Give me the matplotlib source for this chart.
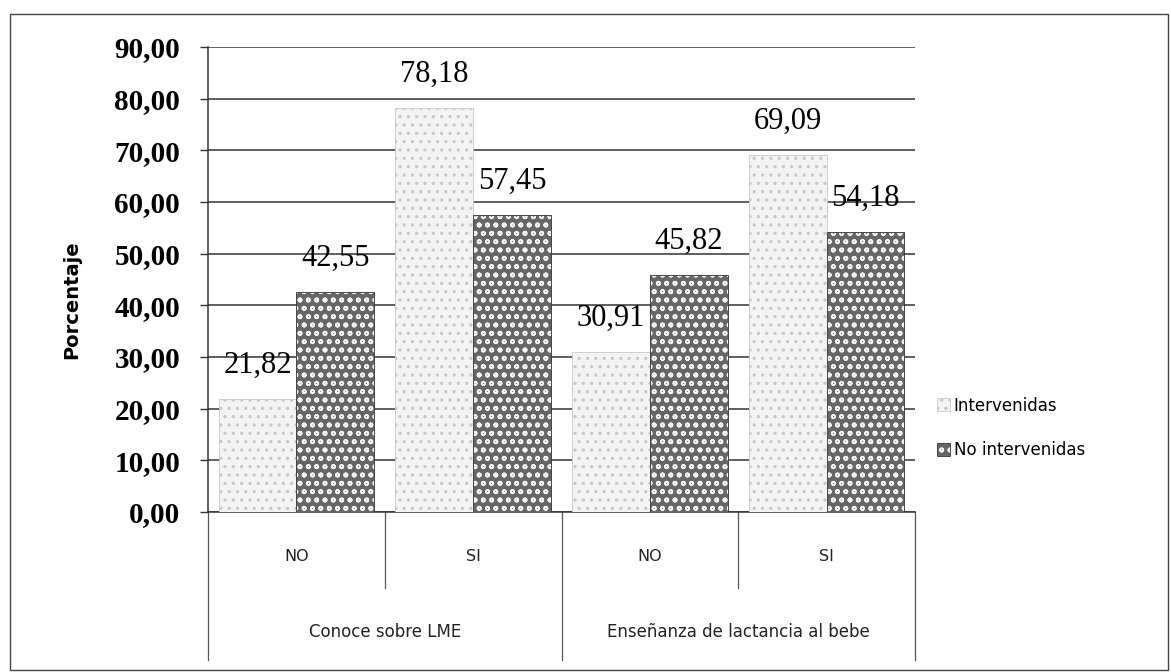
import matplotlib.pyplot as plt
import matplotlib.patches as patches
import matplotlib.transforms as mtransforms
import numpy as np

# Data
subcats = ['NO', 'SI', 'NO', 'SI']
groups = ['Conoce sobre LME', 'Enseñanza de lactancia al bebe']
intervenidas = [21.82, 78.18, 30.91, 69.09]
no_intervenidas = [42.55, 57.45, 45.82, 54.18]
yticks = [0, 10, 20, 30, 40, 50, 60, 70, 80, 90]

plt.rcParams['hatch.linewidth'] = 1.2

fig = plt.figure(figsize=(11.71, 6.72), dpi=100)
ax = fig.add_axes([208 / 1171, 1 - 512 / 672, 707 / 1171, 465 / 672])

x = np.arange(len(subcats))
w = 0.44

# Bars (texture approximated with hatches)
plt.rcParams['hatch.color'] = '#9a9a9a'
b1 = ax.bar(x - w / 2, intervenidas, w, facecolor='#f4f4f4', edgecolor='#c8c8c8',
            hatch='..', linewidth=0.6, label='Intervenidas', zorder=3)
b2 = ax.bar(x + w / 2, no_intervenidas, w, facecolor='#666666', edgecolor='#333333',
            hatch='oo', linewidth=0.6, label='No intervenidas', zorder=3)
for bar in b2:
    bar._hatch_color = (0.95, 0.95, 0.95, 1.0)

# Data labels
for bars, vals in [(b1, intervenidas), (b2, no_intervenidas)]:
    for bar, v in zip(bars, vals):
        ax.annotate(f'{v:.2f}'.replace('.', ','),
                    (bar.get_x() + bar.get_width() / 2, v),
                    xytext=(0, 19), textcoords='offset pixels',
                    ha='center', va='bottom', fontsize=22,
                    family='Liberation Serif', zorder=5)

ax.set_xlim(-0.5, 3.5)
ax.set_ylim(0, 90)
ax.set_yticks(yticks)
ax.set_yticklabels([f'{t:.2f}'.replace('.', ',') for t in yticks],
                   fontsize=21, fontweight='bold', family='Liberation Serif')
ax.tick_params(axis='y', length=6, width=1, color='#333333', pad=14)
ax.set_xticks([])
ax.yaxis.grid(True, color='#333333', linewidth=1.1, zorder=0)
ax.set_axisbelow(True)
for s in ['top', 'right']:
    ax.spines[s].set_visible(False)
ax.spines['left'].set_color('#333333')
ax.spines['bottom'].set_color('#333333')
ax.spines['left'].set_linewidth(1.1)
ax.spines['bottom'].set_linewidth(1.1)

# Two-level category axis
trans = mtransforms.blended_transform_factory(ax.transData, ax.transAxes)
for xv in [0.5, 2.5]:
    ax.plot([xv, xv], [0, -0.163], transform=trans, color='#555555',
            linewidth=0.9, clip_on=False)
for xv in [-0.5, 1.5, 3.5]:
    ax.plot([xv, xv], [0, -0.318], transform=trans, color='#555555',
            linewidth=0.9, clip_on=False)
for xv, lab in zip(x, subcats):
    ax.text(xv, -0.095, lab, transform=trans, ha='center', va='center',
            fontsize=11.5, color='#222222')
for i, lab in enumerate(groups):
    ax.text(2 * i + 0.5, -0.258, lab, transform=trans, ha='center', va='center',
            fontsize=12, color='#222222')

# Axis title
fig.text(72 / 1171, 1 - 300 / 672, 'Porcentaje', rotation=90, ha='center',
         va='center', fontsize=14, fontweight='bold')

# Legend
fig.legend(handles=[b1, b2], loc='center left',
           bbox_to_anchor=(922 / 1171, 1 - 428 / 672), frameon=False,
           fontsize=12, handlelength=0.8, handleheight=0.8, labelspacing=1.6,
           handletextpad=0.2)

# Outer border
fig.patches.append(patches.Rectangle((10 / 1171, 2 / 672), 1158 / 1171, 656 / 672,
                                     transform=fig.transFigure, fill=False,
                                     edgecolor='#444444', linewidth=1))

fig.savefig('out.png', dpi=100)
